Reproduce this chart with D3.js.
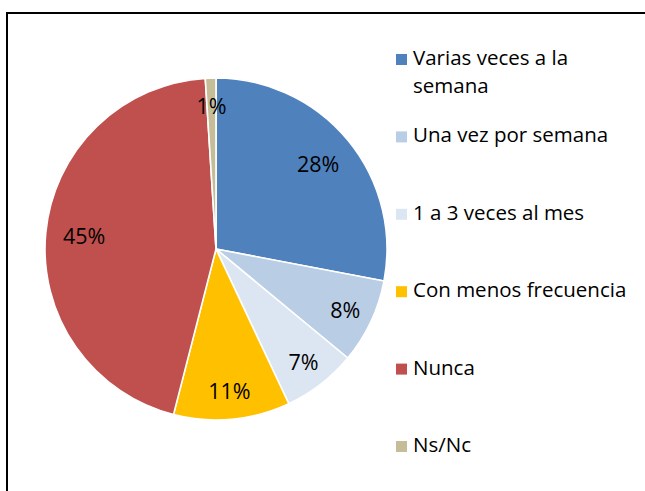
<!DOCTYPE html>
<html><head><meta charset="utf-8">
<script src="https://cdn.jsdelivr.net/npm/d3@7"></script>
<style>html,body{margin:0;padding:0;background:#fff;}svg{display:block;}</style>
</head><body>
<svg id="chart" width="645" height="491"></svg>
<script>
const categories = ["Varias veces a la semana","Una vez por semana","1 a 3 veces al mes","Con menos frecuencia","Nunca","Ns/Nc"];
const legendLines = [["Varias veces a la","semana"],["Una vez por semana"],["1 a 3 veces al mes"],["Con menos frecuencia"],["Nunca"],["Ns/Nc"]];
const values = [28, 8, 7, 11, 45, 1];
const labels = ["28%","8%","7%","11%","45%","1%"];
const colors = ["#4F81BD","#B9CDE5","#DCE6F2","#FFC000","#C0504D","#C4BD97"];

const svg = d3.select("#chart");
const font = "'Open Sans', sans-serif";

svg.append("rect").attr("x",7).attr("y",13).attr("width",700).attr("height",600)
  .attr("fill","#fff").attr("stroke","#000").attr("stroke-width",2);

const cx = 216, cy = 249, r = 171;
const g = svg.append("g").attr("transform",`translate(${cx},${cy})`);
const data = categories.map((c,i)=>({cat:c,val:values[i],lab:labels[i],col:colors[i]}));
const pie = d3.pie().value(d=>d.val).sort(null);
const arcs = pie(data);
const arc = d3.arc().innerRadius(0).outerRadius(r);
g.selectAll("path").data(arcs).join("path")
  .attr("d",arc).attr("fill",d=>d.data.col)
  .attr("stroke","#fff").attr("stroke-width",1.6).attr("stroke-linejoin","round");

const bigArc = d3.arc().innerRadius(r*0.775).outerRadius(r*0.775);
const smallArc = d3.arc().innerRadius(r*0.835).outerRadius(r*0.835);
g.selectAll("text").data(arcs).join("text")
  .attr("transform",d=>{
    const a = (d.endAngle-d.startAngle) > 1.5 ? bigArc : smallArc;
    const c=a.centroid(d);return `translate(${c[0]},${c[1]})`;})
  .attr("text-anchor","middle").attr("dy","0.36em")
  .style("font-family",font).style("font-size","21.5px").attr("fill","#000")
  .text(d=>d.data.lab);

// legend
const leg = svg.append("g");
const ly = d3.scaleLinear().domain([0,5]).range([65,452]);
categories.forEach((c,i)=>{
  const y = ly(i);
  leg.append("rect").attr("x",396).attr("y",y-11).attr("width",11).attr("height",11).attr("fill",colors[i]);
  const t = leg.append("text").attr("x",413).attr("y",y)
    .style("font-family",font).style("font-size","20.5px").attr("fill","#000");
  legendLines[i].forEach((ln,k)=>{
    t.append("tspan").attr("x",413).attr("dy",k===0?0:28).text(ln);
  });
});
</script>
</body></html>
